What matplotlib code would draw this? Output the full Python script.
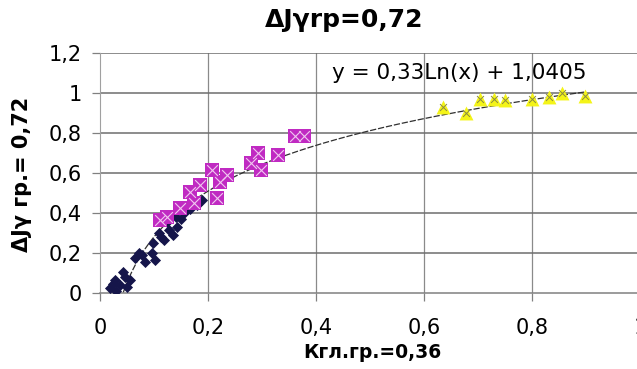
import numpy as np
import matplotlib
matplotlib.use("Agg")
import matplotlib.pyplot as plt

# ── data ─────────────────────────────────────────────────────
navy_x = [0.019, 0.028, 0.037, 0.047, 0.056, 0.043, 0.030, 0.050, 0.024,
          0.065, 0.078, 0.084, 0.096, 0.102, 0.072,
          0.099, 0.109, 0.118, 0.127, 0.136, 0.143, 0.113,
          0.124, 0.140, 0.155, 0.167, 0.180, 0.189, 0.150]
navy_y = [0.023, 0.065, 0.040, 0.080, 0.065, 0.105, 0.010, 0.030, 0.045,
          0.175, 0.190, 0.157, 0.200, 0.165, 0.200,
          0.250, 0.300, 0.265, 0.315, 0.290, 0.330, 0.280,
          0.357, 0.380, 0.400, 0.420, 0.440, 0.465, 0.370]

mag_x = [0.112, 0.124, 0.149, 0.167, 0.174, 0.186, 0.208, 0.217, 0.223,
         0.236, 0.279, 0.292, 0.298, 0.329, 0.362, 0.378]
mag_y = [0.365, 0.380, 0.424, 0.507, 0.449, 0.540, 0.615, 0.474, 0.557,
         0.590, 0.650, 0.700, 0.615, 0.690, 0.785, 0.785]

yel_x = [0.636, 0.677, 0.703, 0.729, 0.750, 0.800, 0.832, 0.856, 0.899]
yel_y = [0.930, 0.900, 0.970, 0.970, 0.965, 0.970, 0.980, 1.000, 0.985]

# trend line y = a*ln(x) + b
trend_a, trend_b = 0.33, 1.0405
trend_x0, trend_x1 = 0.043, 0.90

xticks = [0, 0.2, 0.4, 0.6, 0.8, 1.0]
xtick_labels = ["0", "0,2", "0,4", "0,6", "0,8", "1"]
yticks = [0, 0.2, 0.4, 0.6, 0.8, 1.0, 1.2]
ytick_labels = ["0", "0,2", "0,4", "0,6", "0,8", "1", "1,2"]

fig = plt.figure(figsize=(6.37, 3.69), dpi=100)
ax = fig.add_axes([100 / 637, 76 / 369, 540 / 637, 240 / 369])

# grid
for v in xticks[1:]:
    ax.axvline(v, color="#8a8a8a", lw=0.9, zorder=0)
for v in yticks[1:]:
    ax.axhline(v, color="#6e6e6e", lw=1.1, zorder=0)

tx = np.linspace(trend_x0, trend_x1, 200)
ax.plot(tx, trend_a * np.log(tx) + trend_b, color="#303030", lw=0.9,
        ls=(0, (5, 1.5)), zorder=2)

ax.scatter(navy_x, navy_y, marker="D", s=32, color="#15154a", zorder=3,
           linewidths=0)
ax.scatter(mag_x, mag_y, marker="s", s=100, color="#c02ac2", zorder=4,
           linewidths=0)
ax.scatter(mag_x, mag_y, marker="x", s=60, color="#f0c8f0", zorder=5,
           linewidths=0.8)
ax.scatter(yel_x, yel_y, marker="^", s=100, color="#f4f418", zorder=4,
           linewidths=0)
ax.scatter(yel_x, yel_y, marker="x", s=25, color="#8a8a40", zorder=5,
           linewidths=0.7)

ax.set_xlim(0, 1.0)
ax.set_ylim(0, 1.2)
ax.set_xticks(xticks)
ax.set_xticklabels(xtick_labels)
ax.set_yticks(yticks)
ax.set_yticklabels(ytick_labels)
ax.tick_params(axis="both", labelsize=15, length=6, color="#808080",
               width=0.9)
ax.tick_params(axis="x", pad=12)
ax.tick_params(axis="y", pad=7)
for s in ["top", "right"]:
    ax.spines[s].set_visible(False)
ax.spines["left"].set_color("#a0a0a0")
ax.spines["bottom"].set_color("#808080")
ax.spines["bottom"].set_linewidth(1.1)

ax.text(0.43, 1.1, "y = 0,33Ln(x) + 1,0405", fontsize=15.5, va="center",
        ha="left", zorder=6)

fig.text(344 / 637, 1 - 20 / 369, "ΔJγrp=0,72", fontsize=18,
         fontweight="bold", ha="center", va="center")
fig.text(372 / 637, 1 - 352 / 369, "Кгл.гр.=0,36", fontsize=13.5,
         fontweight="bold", ha="center", va="center")
fig.text(22 / 637, 1 - 174 / 369, "ΔJγ гр.= 0,72", fontsize=15,
         fontweight="bold", ha="center", va="center", rotation=90)

fig.savefig("out.png", dpi=100)
